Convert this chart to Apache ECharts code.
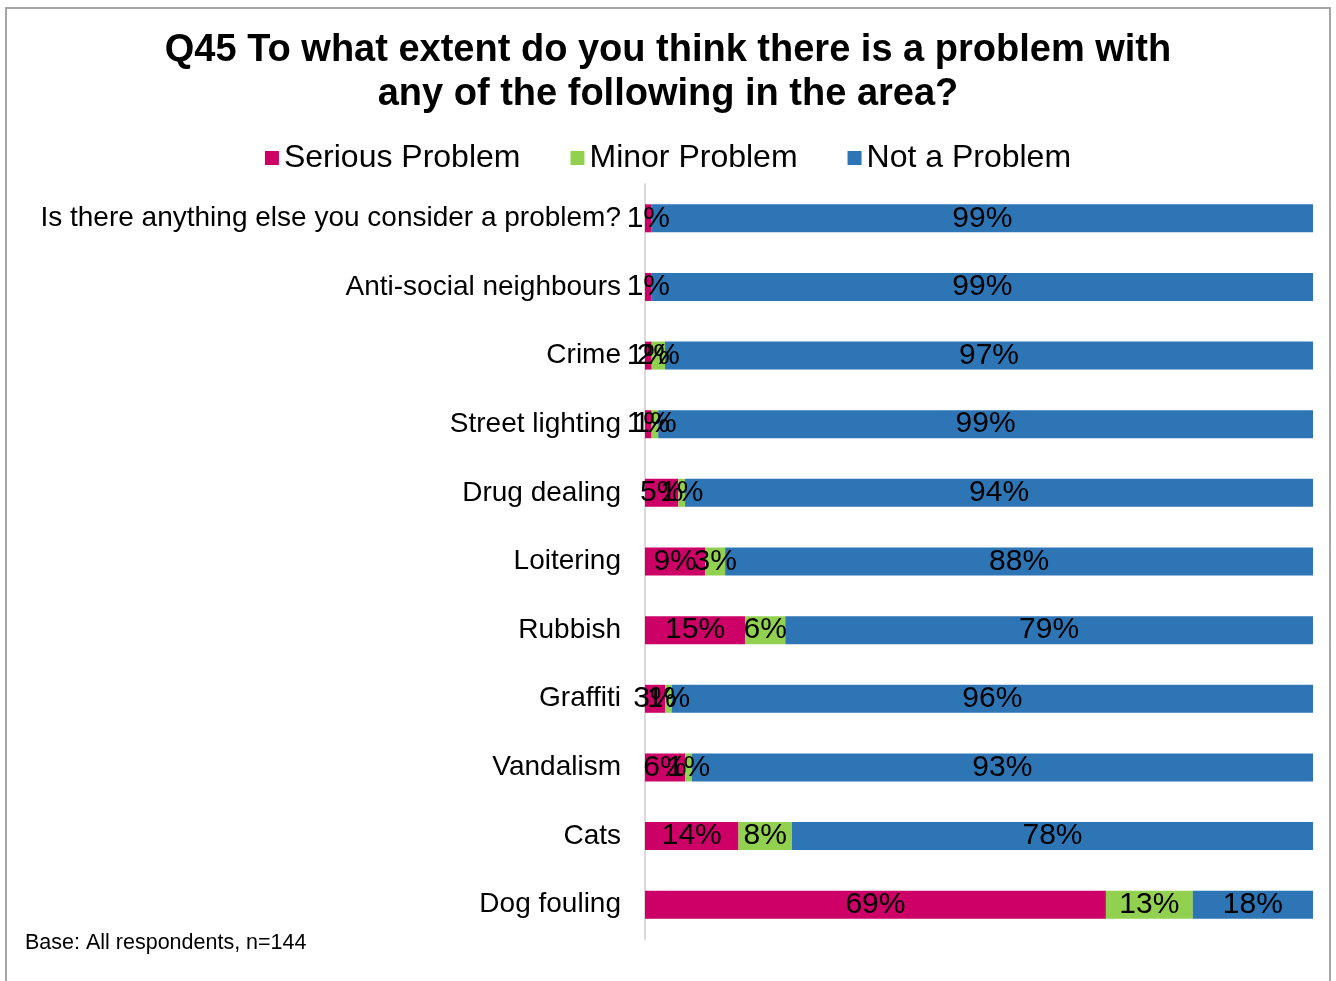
<!DOCTYPE html>
<html>
<head>
<meta charset="utf-8">
<script src="https://cdn.jsdelivr.net/npm/echarts@6/dist/echarts.min.js"></script>
<style>
  html, body { margin: 0; padding: 0; background: #fff; }
  #chart { width: 1336px; height: 981px; }
</style>
</head>
<body>
<div id="chart"></div>
<script>
const categories = [
  'Is there anything else you consider a problem?',
  'Anti-social neighbours',
  'Crime',
  'Street lighting',
  'Drug dealing',
  'Loitering',
  'Rubbish',
  'Graffiti',
  'Vandalism',
  'Cats',
  'Dog fouling'
]
const serious = [1, 1, 1, 1, 5, 9, 15, 3, 6, 14, 69]
const minor = [0, 0, 2, 1, 1, 3, 6, 1, 1, 8, 13]
const notProblem = [99, 99, 97, 99, 94, 88, 79, 96, 93, 78, 18]

const seriesNames = ['Serious Problem', 'Minor Problem', 'Not a Problem']
const colors = ['#CC0066', '#92D050', '#2E75B6']
const fontFamily = 'Liberation Sans, Arial, sans-serif'

// 100% stacked: each row is scaled to its own total, labels keep the rounded value
const totals = categories.map((c, i) => serious[i] + minor[i] + notProblem[i])
const share = (arr) => arr.map((v, i) => ({ value: v / totals[i] * 100, raw: v }))

const chart = echarts.init(document.getElementById('chart'), null, { renderer: 'canvas' })

const makeSeries = (name, arr, color) => ({
  name: name,
  type: 'bar',
  stack: 'total',
  barWidth: 28,
  data: share(arr),
  itemStyle: { color: color },
  label: {
    show: true,
    position: 'inside',
    color: '#000',
    fontSize: 30,
    fontFamily: fontFamily,
    overflow: 'none',
    formatter: (p) => p.data.raw > 0 ? p.data.raw + '%' : ''
  },
  labelLayout: { hideOverlap: false },
  emphasis: { disabled: true }
})

const option = {
  animation: false,
  title: {
    text: 'Q45 To what extent do you think there is a problem with\nany of the following in the area?',
    left: 'center',
    top: 24,
    textStyle: {
      fontFamily: fontFamily,
      fontSize: 38,
      fontWeight: 'bold',
      lineHeight: 44,
      color: '#000'
    }
  },
  legend: {
    top: 137,
    left: 'center',
    itemWidth: 14,
    itemHeight: 14,
    itemGap: 50,
    icon: 'rect',
    textStyle: { fontFamily: fontFamily, fontSize: 32, color: '#000' },
    data: seriesNames
  },
  grid: {
    left: 645,
    right: 23,
    top: 184,
    bottom: 42
  },
  xAxis: {
    type: 'value',
    min: 0,
    max: 100,
    show: false
  },
  yAxis: {
    type: 'category',
    inverse: true,
    data: categories,
    axisTick: { show: false },
    axisLine: { show: true, lineStyle: { color: '#D9D9D9', width: 2 } },
    axisLabel: {
      color: '#000',
      fontSize: 28,
      fontFamily: fontFamily,
      margin: 24
    }
  },
  series: [
    makeSeries(seriesNames[0], serious, colors[0]),
    makeSeries(seriesNames[1], minor, colors[1]),
    makeSeries(seriesNames[2], notProblem, colors[2])
  ],
  graphic: [
    {
      type: 'rect',
      shape: { x: 6, y: 8, width: 1324, height: 990 },
      style: { fill: 'none', stroke: '#A6A6A6', lineWidth: 2 },
      silent: true
    },
    {
      type: 'text',
      left: 25,
      top: 932,
      style: {
        text: 'Base: All respondents, n=144',
        fontFamily: fontFamily,
        fontSize: 21.5,
        fill: '#000'
      }
    }
  ]
}

chart.setOption(option)
window.addEventListener('resize', () => chart.resize())
</script>
</body>
</html>
